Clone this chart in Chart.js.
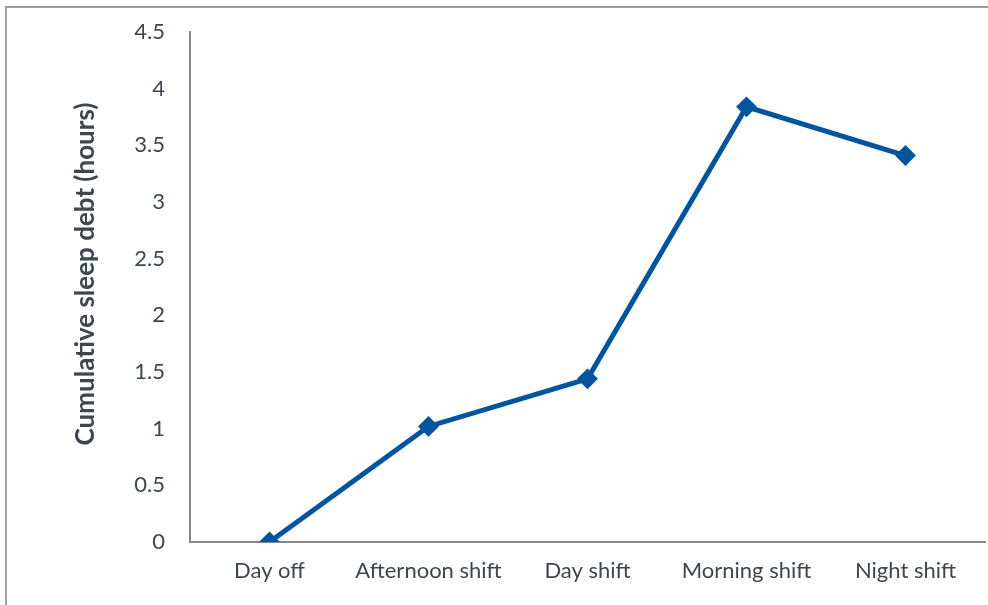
<!DOCTYPE html>
<html>
<head>
<meta charset="utf-8">
<script src="https://cdn.jsdelivr.net/npm/chart.js@4/dist/chart.umd.min.js"></script>
<style>
  html, body { margin: 0; padding: 0; background: #fff; }
  #wrap { position: relative; width: 988px; height: 605px; overflow: hidden; }
  #frame { position: absolute; left: 5px; top: 6px; width: 1000px; height: 700px;
           border-top: 2px solid #9a9a9a; border-left: 2px solid #a3a3a3; box-sizing: border-box; }
  canvas { position: absolute; left: 0; top: 0; }
</style>
</head>
<body>
<div id="wrap">
  <div id="frame"></div>
  <canvas id="c" width="988" height="605"></canvas>
</div>
<script>
const categories = ["Day off", "Afternoon shift", "Day shift", "Morning shift", "Night shift"];
const sleepDebt = [0, 1.02, 1.44, 3.84, 3.41];
const yTitle = "Cumulative sleep debt (hours)";
const yMin = 0, yMax = 4.5, yStep = 0.5;

const textColor = "#3e4750";
const axisColor = "#878787";
const lineColor = "#0055a0";

// y-axis title, drawn as canvas text slightly above the plot centre (as in the original)
const yTitlePlugin = {
  id: "yTitle",
  afterDraw(chart) {
    const ctx = chart.ctx;
    ctx.save();
    ctx.translate(86, 274);
    ctx.rotate(-Math.PI / 2);
    ctx.font = "bold 26px Lato";
    ctx.fillStyle = textColor;
    ctx.textAlign = "center";
    ctx.textBaseline = "middle";
    ctx.fillText(yTitle, 0, 0);
    ctx.restore();
  }
};

new Chart(document.getElementById("c"), {
  type: "line",
  data: {
    labels: categories,
    datasets: [{
      data: sleepDebt,
      borderColor: lineColor,
      backgroundColor: lineColor,
      borderWidth: 5,
      pointStyle: "rectRot",
      pointRadius: 9,
      pointBorderWidth: 2,
      pointBorderColor: lineColor,
      pointBackgroundColor: lineColor,
      tension: 0,
      fill: false
    }]
  },
  options: {
    responsive: false,
    animation: false,
    events: [],
    layout: { autoPadding: false, padding: { left: 0, top: 32, right: 3, bottom: 0 } },
    plugins: { legend: { display: false }, tooltip: { enabled: false } },
    scales: {
      x: {
        offset: true,
        grid: { display: false, drawTicks: false },
        border: { display: true, color: axisColor, width: 2 },
        ticks: {
          color: textColor,
          font: { family: "Lato", size: 22 },
          padding: 16,
          maxRotation: 0,
          autoSkip: false
        },
        afterFit: s => { s.height = 63; s.paddingLeft = 0; s.paddingRight = 0; }
      },
      y: {
        min: yMin, max: yMax,
        grid: { display: false, drawTicks: false },
        border: { display: true, color: axisColor, width: 2 },
        ticks: {
          stepSize: yStep,
          color: textColor,
          font: { family: "Lato", size: 22 },
          padding: 25,
          callback: v => String(v)
        },
        title: { display: false },
        afterFit: s => { s.width = 190; s.paddingTop = 0; s.paddingBottom = 0; }
      }
    }
  },
  plugins: [yTitlePlugin]
});
</script>
</body>
</html>
